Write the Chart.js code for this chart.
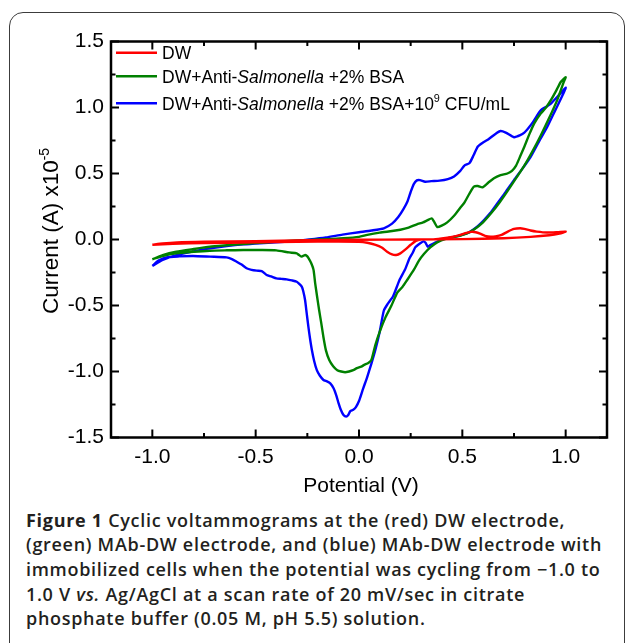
<!DOCTYPE html>
<html>
<head>
<meta charset="utf-8">
<script src="https://cdn.jsdelivr.net/npm/chart.js@4.4.1/dist/chart.umd.min.js"></script>
<style>
  html, body { margin: 0; padding: 0; background: #fff; }
  body { width: 629px; height: 643px; position: relative; overflow: hidden; }
  .frame {
    position: absolute; left: 9px; top: 12px; width: 616px; height: 700px;
    box-sizing: border-box; border: 1.5px solid #3c3c3c; border-radius: 14px;
  }
  .plot { position: absolute; left: 0; top: 0; width: 629px; height: 500px; }
  .caption {
    position: absolute; left: 26px; top: 507.5px;
    font-family: "Open Sans", "Noto Sans", sans-serif; font-size: 18px; line-height: 24.7px;
    letter-spacing: 0.7px; font-weight: 600; color: #231f20; white-space: nowrap;
  }
  .caption b { font-weight: 700; }
</style>
</head>
<body>
<div class="frame"></div>
<div class="plot"><canvas id="cv"></canvas></div>
<div class="caption">
  <b>Figure 1</b> Cyclic voltammograms at the (red) DW electrode,<br>
  (green) MAb-DW electrode, and (blue) MAb-DW electrode with<br>
  immobilized cells when the potential was cycling from &minus;1.0 to<br>
  1.0 V <i>vs.</i> Ag/AgCl at a scan rate of 20 mV/sec in citrate<br>
  phosphate buffer (0.05 M, pH 5.5) solution.
</div>
<script>
'use strict';

/* ----------------------------------------------------------
   DATA (potential in V, current in 1e-5 A)
   ---------------------------------------------------------- */
const X_TICKS = [-1.0, -0.5, 0.0, 0.5, 1.0];
const X_MINOR = [-0.75, -0.25, 0.25, 0.75];
const Y_TICKS = [-1.5, -1.0, -0.5, 0.0, 0.5, 1.0, 1.5];
const Y_MINOR = [-1.25, -0.75, -0.25, 0.25, 0.75, 1.25];

const SERIES_LABELS = [
  'DW',
  'DW+Anti-Salmonella +2% BSA',
  'DW+Anti-Salmonella +2% BSA+10^9 CFU/mL'
];

const redV = [-1.0, -0.95, -0.88, -0.75, -0.5, -0.25, 0.0, 0.25, 0.5, 0.7, 0.83, 0.92, 0.97, 1.0,
  0.96, 0.91, 0.86, 0.83, 0.80, 0.78, 0.75, 0.72, 0.69, 0.66, 0.637, 0.61, 0.589, 0.565, 0.545, 0.52,
  0.49, 0.45, 0.40, 0.35, 0.30, 0.275, 0.25, 0.225, 0.20, 0.18, 0.16, 0.136, 0.11, 0.08, 0.04, 0.0,
  -0.1, -0.3, -0.5, -0.75, -0.9, -1.0];
const redI = [-0.04, -0.03, -0.022, -0.017, -0.012, -0.006, -0.002, 0.0, 0.003, 0.01, 0.02, 0.032, 0.045, 0.06,
  0.056, 0.053, 0.06, 0.068, 0.08, 0.085, 0.08, 0.06, 0.035, 0.024, 0.021, 0.028, 0.042, 0.055, 0.058, 0.05,
  0.035, 0.02, 0.008, 0.0, 0.0, -0.01, -0.04, -0.075, -0.105, -0.117, -0.113, -0.092, -0.06, -0.04, -0.025, -0.018,
  -0.015, -0.018, -0.022, -0.027, -0.033, -0.04];

const greenV = [-1.0, -0.95, -0.884, -0.80, -0.722, -0.64, -0.56, -0.48, -0.398, -0.32, -0.236, -0.15, -0.075,
  0.0, 0.04, 0.10, 0.16, 0.20, 0.24, 0.28, 0.31, 0.33, 0.352, 0.365, 0.379, 0.40, 0.427, 0.46, 0.49, 0.51,
  0.535, 0.556, 0.575, 0.597, 0.625, 0.653, 0.685, 0.718, 0.74, 0.76, 0.78, 0.80, 0.825, 0.848, 0.88, 0.905,
  0.929, 0.955, 0.977, 1.0,
  0.99, 0.96, 0.92, 0.88, 0.84, 0.80, 0.76, 0.72, 0.68, 0.64, 0.60, 0.56, 0.52, 0.47, 0.42, 0.38, 0.345,
  0.314, 0.29, 0.265, 0.233, 0.21, 0.186, 0.157, 0.128, 0.10, 0.079, 0.06, 0.045, 0.025, 0.011, -0.01,
  -0.028, -0.048, -0.067, -0.086, -0.105, -0.125, -0.144, -0.16, -0.172, -0.183, -0.193, -0.203, -0.212,
  -0.22, -0.231, -0.245, -0.252, -0.262, -0.277, -0.29, -0.301, -0.338, -0.40, -0.48, -0.56, -0.64, -0.722,
  -0.80, -0.884, -0.95, -1.0];
const greenI = [-0.15, -0.118, -0.092, -0.072, -0.055, -0.044, -0.034, -0.025, -0.016, -0.01, -0.004, 0.003, 0.009,
  0.02, 0.035, 0.052, 0.064, 0.074, 0.09, 0.115, 0.13, 0.145, 0.16, 0.13, 0.094, 0.105, 0.13, 0.18, 0.24, 0.28,
  0.35, 0.40, 0.405, 0.395, 0.43, 0.464, 0.487, 0.50, 0.52, 0.56, 0.63, 0.703, 0.80, 0.88, 0.956, 1.0,
  1.057, 1.13, 1.195, 1.23,
  1.19, 1.06, 0.92, 0.79, 0.67, 0.56, 0.465, 0.37, 0.28, 0.2, 0.13, 0.08, 0.045, 0.022, 0.005, -0.02, -0.06,
  -0.11, -0.16, -0.231, -0.307, -0.36, -0.40, -0.50, -0.59, -0.70, -0.80, -0.913, -0.935, -0.95, -0.963, -0.975,
  -0.99, -1.0, -1.006, -1.0, -0.99, -0.96, -0.913, -0.84, -0.74, -0.63, -0.534, -0.43, -0.332,
  -0.23, -0.18, -0.14, -0.125, -0.118, -0.13, -0.118, -0.105, -0.098, -0.082, -0.08, -0.08, -0.082, -0.085,
  -0.093, -0.105, -0.125, -0.15];

const blueV = [-1.0, -0.95, -0.88, -0.80, -0.72, -0.64, -0.56, -0.48, -0.40, -0.32, -0.24, -0.16, -0.08, 0.0,
  0.06, 0.12, 0.16, 0.19, 0.215, 0.235, 0.25, 0.265, 0.28, 0.295, 0.32, 0.35, 0.39, 0.43, 0.46, 0.49, 0.51,
  0.535, 0.555, 0.575, 0.60, 0.625, 0.66, 0.685, 0.71, 0.75, 0.78, 0.80, 0.82, 0.84, 0.86, 0.88, 0.91, 0.93,
  0.965, 1.0,
  0.99, 0.95, 0.91, 0.87, 0.83, 0.79, 0.75, 0.71, 0.67, 0.635, 0.605, 0.57, 0.53, 0.48, 0.43, 0.395, 0.36,
  0.345, 0.333, 0.322, 0.312, 0.298, 0.285, 0.272, 0.26, 0.245, 0.222, 0.195, 0.165, 0.138, 0.12, 0.10, 0.079,
  0.06, 0.04, 0.02, 0.001, -0.015, -0.028, -0.042, -0.052, -0.062, -0.075, -0.088, -0.099, -0.11, -0.123,
  -0.139, -0.155, -0.172, -0.19, -0.204, -0.217, -0.228, -0.237, -0.245, -0.253, -0.261, -0.27, -0.277,
  -0.29, -0.301, -0.325, -0.35, -0.375, -0.40, -0.425, -0.447, -0.471, -0.495, -0.52, -0.544, -0.568, -0.592,
  -0.615, -0.641, -0.72, -0.803, -0.87, -0.932, -0.97, -1.0];
const blueI = [-0.20, -0.155, -0.117, -0.09, -0.067, -0.05, -0.037, -0.028, -0.021, -0.012, 0.0, 0.015, 0.037, 0.055,
  0.068, 0.085, 0.12, 0.17, 0.23, 0.29, 0.36, 0.42, 0.448, 0.45, 0.438, 0.442, 0.446, 0.458, 0.478, 0.52, 0.56,
  0.58, 0.64, 0.705, 0.735, 0.758, 0.80, 0.822, 0.81, 0.775, 0.79, 0.81, 0.845, 0.885, 0.935, 0.98, 1.01, 1.032,
  1.09, 1.15,
  1.11, 0.98, 0.85, 0.74, 0.625, 0.535, 0.45, 0.36, 0.275, 0.2, 0.148, 0.095, 0.052, 0.028, 0.01, -0.004, -0.03,
  -0.042, -0.055, -0.025, -0.014, -0.027, -0.042, -0.06, -0.1, -0.14, -0.23, -0.31, -0.43, -0.49, -0.54, -0.70, -0.837,
  -0.94, -1.04, -1.13, -1.22, -1.27, -1.29, -1.30, -1.33, -1.342, -1.33, -1.29, -1.24, -1.18, -1.127,
  -1.09, -1.075, -1.064, -1.03, -0.99, -0.92, -0.837, -0.75, -0.66, -0.56, -0.458, -0.39, -0.357,
  -0.335, -0.32, -0.31, -0.302, -0.298, -0.294, -0.28, -0.269, -0.239, -0.236, -0.23, -0.218, -0.19, -0.168,
  -0.148, -0.135, -0.13, -0.125, -0.128, -0.135, -0.16, -0.20];

/* ----------------------------------------------------------
   HELPERS
   ---------------------------------------------------------- */
const FONT = '"Liberation Sans", Arial, sans-serif';

function zip(xs, ys) {
  return xs.map((x, i) => ({ x, y: ys[i] }));
}

// rich text: parts = [{t, italic, sup}]
function richParts(label) {
  const out = [];
  label.split(/(Salmonella|\^9)/).forEach(s => {
    if (!s) return;
    if (s === 'Salmonella') out.push({ t: s, italic: true });
    else if (s === '^9') out.push({ t: '9', sup: true });
    else out.push({ t: s });
  });
  return out;
}

function drawRich(ctx, parts, x, y, size, measureOnly) {
  let cx = x;
  parts.forEach(p => {
    const s = p.sup ? size * 0.62 : size;
    ctx.font = `${p.italic ? 'italic ' : ''}${s}px ${FONT}`;
    if (!measureOnly) ctx.fillText(p.t, cx, p.sup ? y - size * 0.42 : y);
    cx += ctx.measureText(p.t).width;
  });
  return cx - x;
}

/* ----------------------------------------------------------
   FRAME, TICKS, LEGEND, AXIS TITLES
   ---------------------------------------------------------- */
const decorPlugin = {
  id: 'decor',
  afterDraw(chart) {
    const { ctx, chartArea: a, scales: { x, y } } = chart;
    ctx.save();
    ctx.strokeStyle = '#000';
    ctx.fillStyle = '#000';

    // ticks on all four sides, pointing inward
    ctx.lineWidth = 2;
    const tick = (px, major, vertical) => {
      const len = major ? 8 : 4.5;
      ctx.beginPath();
      if (vertical) {
        ctx.moveTo(px, a.bottom); ctx.lineTo(px, a.bottom - len);
        ctx.moveTo(px, a.top);    ctx.lineTo(px, a.top + len);
      } else {
        ctx.moveTo(a.left, px);  ctx.lineTo(a.left + len, px);
        ctx.moveTo(a.right, px); ctx.lineTo(a.right - len, px);
      }
      ctx.stroke();
    };
    X_TICKS.forEach(v => tick(x.getPixelForValue(v), true, true));
    X_MINOR.forEach(v => tick(x.getPixelForValue(v), false, true));
    Y_TICKS.forEach(v => tick(y.getPixelForValue(v), true, false));
    Y_MINOR.forEach(v => tick(y.getPixelForValue(v), false, false));

    ctx.lineWidth = 2.5;
    ctx.strokeRect(a.left, a.top, a.right - a.left, a.bottom - a.top);

    // legend
    const rows = [52.7, 76.3, 103.3];
    ctx.textBaseline = 'alphabetic';
    ctx.textAlign = 'left';
    chart.data.datasets.forEach((ds, i) => {
      ctx.strokeStyle = ds.borderColor;
      ctx.lineWidth = 2.5;
      ctx.beginPath();
      ctx.moveTo(a.left + 5, rows[i]);
      ctx.lineTo(a.left + 46, rows[i]);
      ctx.stroke();
      ctx.fillStyle = '#000';
      drawRich(ctx, richParts(SERIES_LABELS[i]), a.left + 51, rows[i] + 6.3, 17.5);
    });

    // x title
    ctx.font = `21px ${FONT}`;
    ctx.textAlign = 'center';
    ctx.fillText('Potential (V)', (a.left + a.right) / 2 + 2, 492);

    // y title (rotated, with superscript)
    const yParts = [{ t: 'Current (A) x10' }, { t: '-5', sup: true }];
    ctx.textAlign = 'left';
    const w = drawRich(ctx, yParts, 0, 0, 22.5, true);
    ctx.translate(58, 231);
    ctx.rotate(-Math.PI / 2);
    drawRich(ctx, yParts, -w / 2, 0, 22.5);
    ctx.restore();
  }
};

/* ----------------------------------------------------------
   CHART
   ---------------------------------------------------------- */
Chart.defaults.font.family = FONT;
Chart.defaults.color = '#000';

const COLORS = ['#ff0000', '#008000', '#0000ff'];
const series = [zip(redV, redI), zip(greenV, greenI), zip(blueV, blueI)];

new Chart(document.getElementById('cv'), {
  type: 'scatter',
  data: {
    datasets: series.map((data, i) => ({
      label: SERIES_LABELS[i],
      data,
      showLine: true,
      borderColor: COLORS[i],
      backgroundColor: COLORS[i],
      borderWidth: 2.4,
      pointRadius: 0,
      tension: 0.2,
      fill: false,
    }))
  },
  options: {
    responsive: true,
    maintainAspectRatio: false,
    animation: false,
    layout: { padding: { left: 0, right: 22, top: 41.5, bottom: 0 } },
    plugins: { legend: { display: false }, tooltip: { enabled: false } },
    scales: {
      x: {
        type: 'linear',
        min: -1.2, max: 1.2,
        grid: { display: false, drawTicks: false },
        border: { display: false },
        afterBuildTicks: s => { s.ticks = X_TICKS.map(value => ({ value })); },
        afterFit: s => { s.height = 62.5; },
        ticks: { font: { size: 21 }, padding: 7.5, maxRotation: 0, callback: v => v.toFixed(1) },
      },
      y: {
        type: 'linear',
        min: -1.5, max: 1.5,
        grid: { display: false, drawTicks: false },
        border: { display: false },
        afterBuildTicks: s => { s.ticks = Y_TICKS.map(value => ({ value })); },
        afterFit: s => { s.width = 111; },
        ticks: { font: { size: 21 }, padding: 7, callback: v => v.toFixed(1) },
      }
    }
  },
  plugins: [decorPlugin]
});
</script>
</body>
</html>
